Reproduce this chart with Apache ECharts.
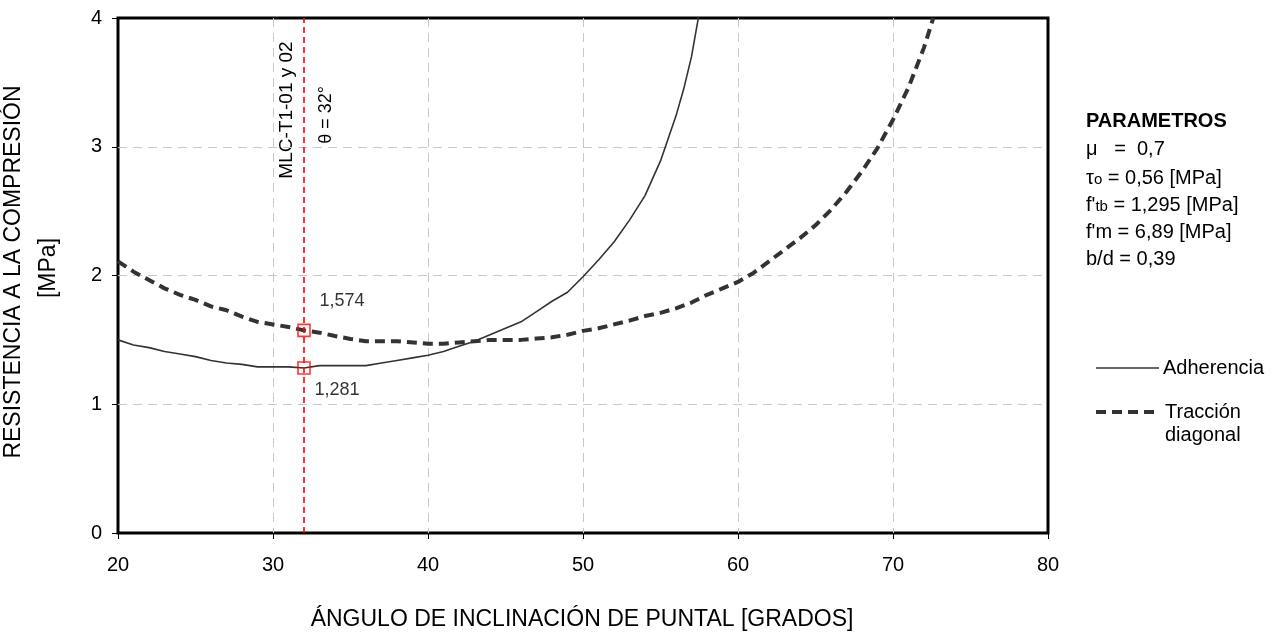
<!DOCTYPE html>
<html>
<head>
<meta charset="utf-8">
<script src="https://cdn.jsdelivr.net/npm/echarts@6/dist/echarts.min.js"></script>
<style>
html,body{margin:0;padding:0;background:#fff;}
#main{width:1284px;height:632px;}
</style>
</head>
<body>
<div id="main"></div>
<script>
// ---- data ----
const adhTheta = [20,21,22,23,24,25,26,27,28,29,30,31,32,33,34,35,36,37,38,39,40,41,42,43,44,45,46,47,48,49,50,51,52,53,54,55,56,56.5,57,57.5];
const adhValues = [1.50,1.46,1.44,1.41,1.39,1.37,1.34,1.32,1.31,1.29,1.29,1.29,1.281,1.30,1.30,1.30,1.30,1.32,1.34,1.36,1.38,1.41,1.45,1.49,1.54,1.59,1.64,1.72,1.80,1.87,1.99,2.12,2.26,2.43,2.62,2.89,3.24,3.45,3.70,4.04];
const tracTheta = [20,21,22,23,24,25,26,27,28,29,30,31,32,33,34,35,36,38,40,41,42,43,44,45,46,47,48,49,50,51,52,53,54,55,56,57,58,59,60,61,62,63,64,65,66,67,68,69,70,71,72,72.6];
const tracValues = [2.11,2.03,1.965,1.90,1.85,1.81,1.76,1.73,1.68,1.64,1.62,1.60,1.574,1.556,1.53,1.507,1.49,1.49,1.47,1.47,1.48,1.49,1.50,1.50,1.50,1.51,1.52,1.54,1.57,1.59,1.62,1.65,1.685,1.71,1.745,1.79,1.85,1.90,1.95,2.02,2.11,2.20,2.29,2.39,2.51,2.65,2.81,2.99,3.21,3.46,3.77,4.0];
const markTheta = [32, 32];
const markValues = [1.574, 1.281];
const xTicks = [20, 30, 40, 50, 60, 70, 80];
const yTicks = [0, 1, 2, 3, 4];
const seriesNames = ['Adherencia', 'Tracción diagonal'];
const paramLines = ['μ   =  0,7', 'τo = 0,56 [MPa]', "f'tb = 1,295 [MPa]", "f'm = 6,89 [MPa]", 'b/d = 0,39'];

const FONT = '"Liberation Sans", Arial, Helvetica, sans-serif';
const chart = echarts.init(document.getElementById('main'), null, {renderer: 'canvas'});

const adhData = adhTheta.map((t, i) => [t, adhValues[i]]);
const tracData = tracTheta.map((t, i) => [t, tracValues[i]]);
const markOffsets = [[38, -29], [33, 22]];
const markData = markTheta.map((t, i) => ({
  value: [t, markValues[i]],
  label: {show: true, position: 'inside', offset: markOffsets[i],
    formatter: p => p.value[1].toFixed(3).replace('.', ','),
    fontFamily: FONT, fontSize: 18, color: '#000'}
}));

const txt = (x, y, text, opts) => Object.assign({
  type: 'text', x: x, y: y, silent: true,
  style: Object.assign({text: text, fontFamily: FONT, fontSize: 20, fill: '#000', align: 'left', verticalAlign: 'middle'}, opts || {})
});

const rich = {
  a: {fontFamily: FONT, fontSize: 20, fill: '#000', color: '#000', verticalAlign: 'bottom', lineHeight: 22},
  s: {fontFamily: FONT, fontSize: 15, fill: '#000', color: '#000', verticalAlign: 'bottom', lineHeight: 22, padding: [0, 0, 1, 0]}
};

const option = {
  animation: false,
  backgroundColor: '#fff',
  grid: {left: 118, right: 236, top: 18, bottom: 99, show: true, borderColor: '#000', borderWidth: 3, backgroundColor: 'transparent'},
  xAxis: {
    type: 'value', min: xTicks[0], max: xTicks[xTicks.length - 1], interval: 10,
    axisLine: {show: false},
    axisTick: {show: true, length: 6, lineStyle: {color: '#000', width: 1}},
    axisLabel: {fontFamily: FONT, fontSize: 20, color: '#000', margin: 22},
    splitLine: {show: true, showMinLine: false, showMaxLine: false, lineStyle: {color: '#c8c8c8', type: [9, 6], width: 1}}
  },
  yAxis: {
    type: 'value', min: yTicks[0], max: yTicks[yTicks.length - 1], interval: 1,
    axisLine: {show: false},
    axisTick: {show: true, length: 6, lineStyle: {color: '#000', width: 1}},
    axisLabel: {fontFamily: FONT, fontSize: 20, color: '#000', margin: 16},
    splitLine: {show: true, showMinLine: false, showMaxLine: false, lineStyle: {color: '#c8c8c8', type: [9, 6], width: 1}}
  },
  series: [
    {
      name: seriesNames[0], type: 'line', data: adhData, symbol: 'none', smooth: false,
      lineStyle: {color: '#333', width: 1.6}, z: 3,
      markLine: {
        silent: true, symbol: 'none', label: {show: false},
        lineStyle: {color: '#ff0000', type: [6, 4], width: 1.6},
        data: [{xAxis: markTheta[0]}]
      }
    },
    {
      name: seriesNames[1], type: 'line', data: tracData, symbol: 'none', smooth: false,
      lineStyle: {color: '#333', width: 4, type: [10, 6], cap: 'butt'}, z: 3
    },
    {
      name: 'marks', type: 'scatter', data: markData, symbol: 'rect', symbolSize: 12,
      itemStyle: {color: 'rgba(255,255,255,0)', borderColor: '#ff0000', borderWidth: 1.6}, z: 5
    }
  ],
  graphic: [
    // axis titles
    txt(582, 620, 'ÁNGULO DE INCLINACIÓN DE PUNTAL [GRADOS]', {fontSize: 23, align: 'center'}),
    txt(14, 272, 'RESISTENCIA A LA COMPRESIÓN', {fontSize: 23, align: 'center'}),
    txt(49, 268, '[MPa]', {fontSize: 23, align: 'center'}),
    // annotations
    txt(287, 110, 'MLC-T1-01 y 02', {fontSize: 19, align: 'center'}),
    txt(326, 115, 'θ = 32°', {fontSize: 18, align: 'center'}),
    // parameters
    txt(1086, 121, 'PARAMETROS', {fontSize: 20, fontWeight: 'bold'}),
    txt(1086, 149, paramLines[0]),
    {type: 'text', x: 1086, y: 177, silent: true, style: {text: '{a|τ}{s|o}{a| = 0,56 [MPa]}', rich: rich, verticalAlign: 'middle', align: 'left', fontFamily: FONT, fontSize: 20}},
    {type: 'text', x: 1086, y: 204, silent: true, style: {text: "{a|f'}{s|tb}{a| = 1,295 [MPa]}", rich: rich, verticalAlign: 'middle', align: 'left', fontFamily: FONT, fontSize: 20}},
    txt(1086, 232, paramLines[3]),
    txt(1086, 259, paramLines[4]),
    // legend
    {type: 'line', silent: true, shape: {x1: 1096, y1: 368, x2: 1159, y2: 368}, style: {stroke: '#333', lineWidth: 1.6}},
    txt(1163, 368, seriesNames[0]),
    {type: 'line', silent: true, shape: {x1: 1096, y1: 412, x2: 1160, y2: 412}, style: {stroke: '#333', lineWidth: 4, lineDash: [10, 6]}},
    txt(1165, 412, 'Tracción'),
    txt(1165, 435, 'diagonal')
  ]
};
// rotate y-title and annotation texts
[1, 2, 3, 4].forEach(i => { option.graphic[i].rotation = Math.PI / 2; });
chart.setOption(option);
</script>
</body>
</html>
